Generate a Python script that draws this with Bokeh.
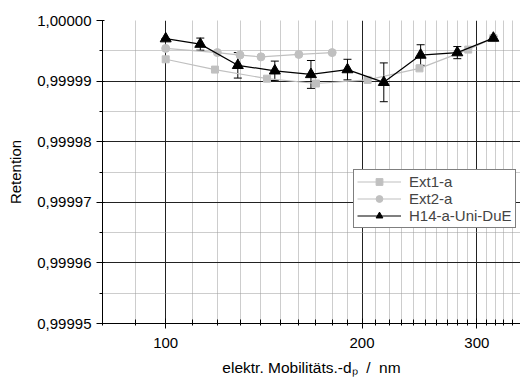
from bokeh.plotting import figure
from bokeh.models import (ColumnDataSource, FixedTicker, CustomJSTickFormatter, Range1d,
                          Legend, LegendItem, Whisker, TeeHead)
from bokeh.embed import file_html
from bokeh.resources import INLINE

# ---- data ----
ext1_x = [100, 119, 143, 170, 204, 245, 291, 318]
ext1_y = [0.9999936, 0.9999919, 0.9999904, 0.9999896, 0.9999902, 0.9999921, 0.9999952, 0.9999971]

ext2_x = [100, 120, 130, 140, 160, 180]
ext2_y = [0.9999954, 0.9999947, 0.9999943, 0.9999940, 0.9999944, 0.9999947]

h14_x = [100, 113, 129, 147, 167, 190, 216, 246, 280, 318]
h14_y = [0.9999970, 0.9999961, 0.9999926, 0.9999917, 0.9999911, 0.9999919, 0.9999898,
         0.9999943, 0.9999947, 0.9999971]
h14_err = [0.0, 0.0000010, 0.0000021, 0.0000016, 0.0000023, 0.0000017, 0.0000032,
           0.0000017, 0.0000010, 0.0000003]

x_major = [100, 200, 300]
x_minor = [80, 90, 110, 120, 130, 140, 150, 160, 170, 180, 190, 210, 220, 230, 240,
           250, 260, 270, 280, 290, 310, 320, 330, 340]
y_major = [0.99995, 0.99996, 0.99997, 0.99998, 0.99999, 1.00000]
y_minor = [0.999955, 0.999965, 0.999975, 0.999985, 0.999995]

FONT = "Liberation Sans"
GREY = "#c0c0c0"

p = figure(width=520, height=381, x_axis_type="log", output_backend="svg",
           toolbar_location=None, x_range=Range1d(80, 350), y_range=Range1d(0.99995, 1.0),
           min_border_left=102, min_border_right=0, min_border_top=20, min_border_bottom=58)
p.outline_line_color = None
p.background_fill_color = "white"

# axes
xa = p.xaxis[0]
xa.ticker = FixedTicker(ticks=x_major, minor_ticks=x_minor)
xa.major_label_overrides = {100: "100", 200: "200", 300: "300"}
xa.major_label_text_font = FONT
xa.major_label_text_font_size = "15px"
xa.major_label_text_color = "black"
xa.major_tick_in = 5
xa.major_tick_out = 5
xa.minor_tick_in = 4
xa.minor_tick_out = 2
xa.major_label_standoff = 9
xa.axis_line_color = "black"
xa.major_tick_line_color = "black"
xa.minor_tick_line_color = "black"
xa.axis_label = "elektr. Mobilitäts.-dₚ\u00a0 /\u00a0 nm"
xa.axis_label_text_font = FONT
xa.axis_label_text_font_size = "15.5px"
xa.axis_label_text_font_style = "normal"
xa.axis_label_text_color = "black"
xa.axis_label_standoff = 8

ya = p.yaxis[0]
ya.ticker = FixedTicker(ticks=y_major, minor_ticks=y_minor)
ya.formatter = CustomJSTickFormatter(code="return tick.toFixed(5).replace('.', ',');")
ya.major_label_text_font = FONT
ya.major_label_text_font_size = "15px"
ya.major_label_text_color = "black"
ya.major_tick_in = 2
ya.major_tick_out = 6
ya.minor_tick_in = 0
ya.minor_tick_out = 3
ya.major_label_standoff = 5
ya.axis_label = "Retention"
ya.axis_label_text_font = FONT
ya.axis_label_text_font_size = "15px"
ya.axis_label_text_font_style = "normal"
ya.axis_label_text_color = "black"
ya.axis_label_standoff = 10
ya.axis_line_color = "black"

# grids
p.xgrid.ticker = FixedTicker(ticks=x_major, minor_ticks=x_minor[1:])
p.xgrid.grid_line_color = "#222222"
p.xgrid.grid_line_width = 1
p.xgrid.minor_grid_line_color = "#9a9a9a"
p.xgrid.minor_grid_line_dash = "1 1"
p.ygrid.ticker = FixedTicker(ticks=y_major[1:-1], minor_ticks=y_minor)
p.ygrid.grid_line_color = "#222222"
p.ygrid.grid_line_width = 1
p.ygrid.minor_grid_line_color = "#9a9a9a"
p.ygrid.minor_grid_line_dash = "1 1"

# series
l1 = p.line(ext1_x, ext1_y, line_color=GREY, line_width=1.2)
s1 = p.scatter(ext1_x, ext1_y, marker="square", size=7, fill_color=GREY, line_color=GREY)
l2 = p.line(ext2_x, ext2_y, line_color=GREY, line_width=1.2)
s2 = p.scatter(ext2_x, ext2_y, marker="circle", size=8, fill_color=GREY, line_color=GREY)

src = ColumnDataSource(dict(x=h14_x, y=h14_y,
                            upper=[y + e for y, e in zip(h14_y, h14_err)],
                            lower=[y - e for y, e in zip(h14_y, h14_err)]))
l3 = p.line("x", "y", source=src, line_color="black", line_width=1.2)
w = Whisker(source=src, base="x", upper="upper", lower="lower", dimension="height",
            line_color="black", line_width=1,
            upper_head=TeeHead(size=8, line_color="black", line_width=1),
            lower_head=TeeHead(size=8, line_color="black", line_width=1))
p.add_layout(w)
s3 = p.scatter("x", "y", source=src, marker="triangle", size=11, fill_color="black", line_color="black")

legend = Legend(items=[LegendItem(label="Ext1-a", renderers=[l1, s1]),
                       LegendItem(label="Ext2-a", renderers=[l2, s2]),
                       LegendItem(label="H14-a-Uni-DuE", renderers=[l3, s3])],
                location=(251, 95), padding=3, spacing=0, margin=0,
                label_height=17, glyph_height=17, glyph_width=44, label_standoff=8,
                label_text_font=FONT, label_text_font_size="15px",
                border_line_color="black", border_line_width=1,
                background_fill_color="white", background_fill_alpha=1)
p.add_layout(legend)

open("out.html", "w").write(file_html(p, INLINE))
